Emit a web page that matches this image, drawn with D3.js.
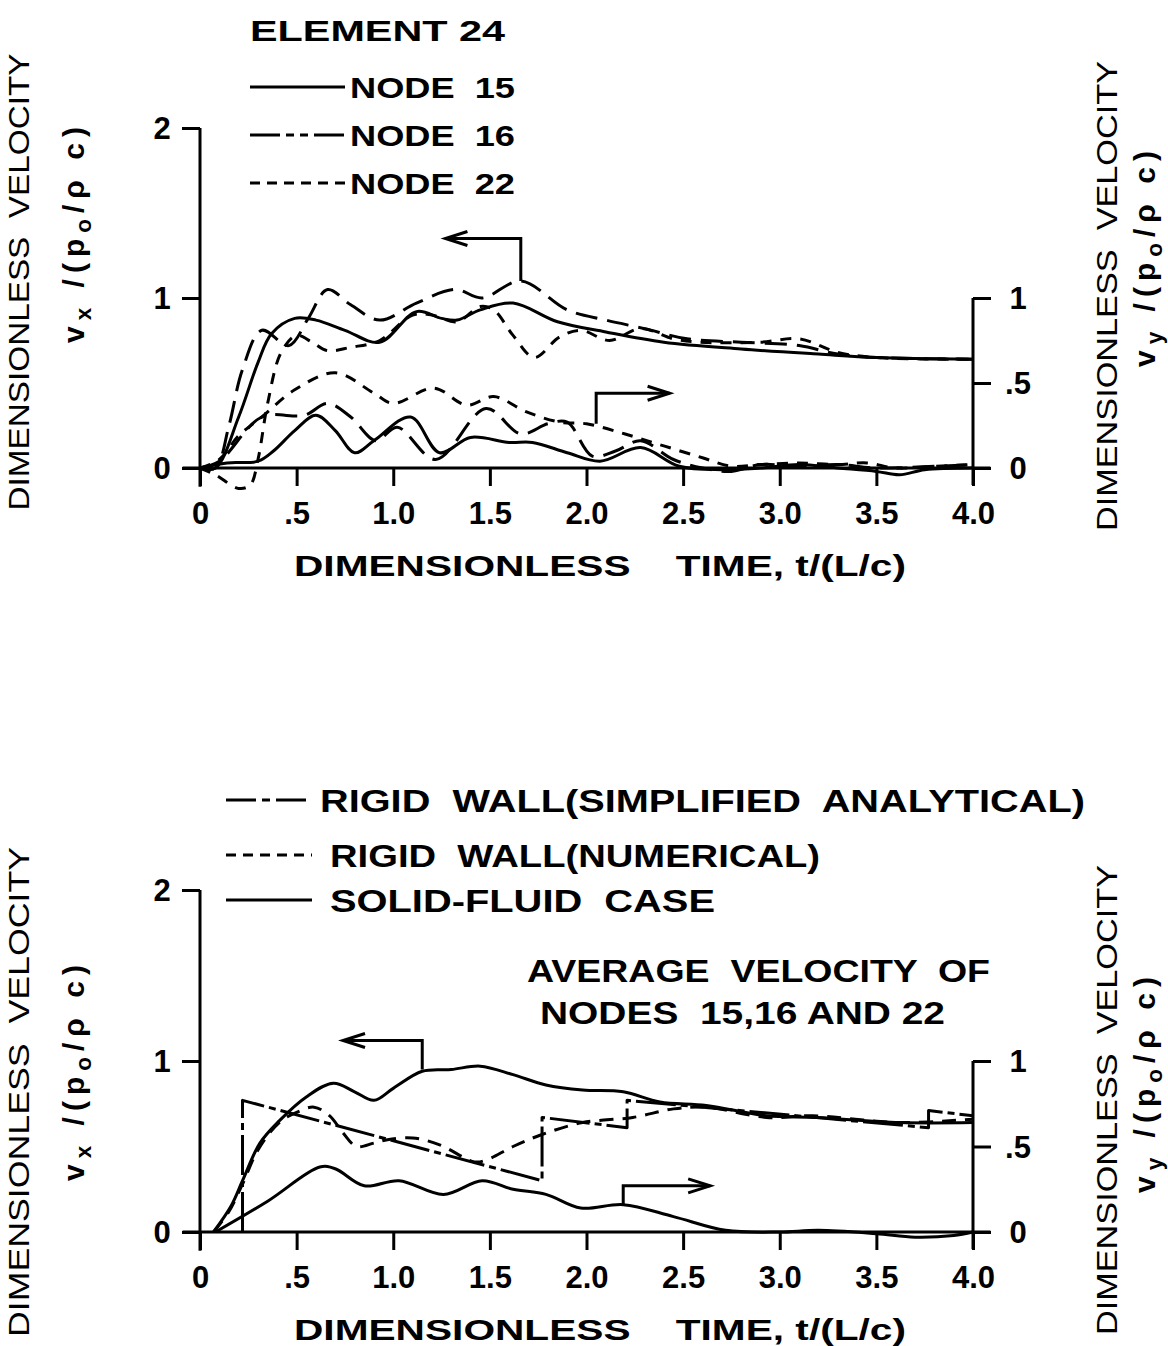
<!DOCTYPE html>
<html>
<head>
<meta charset="utf-8">
<script src="https://d3js.org/d3.v7.min.js"></script>
<style>
  body { margin: 0; background: #fff; }
  svg { display: block; background: #fff; }
  text { font-family: "Liberation Sans", Arial, sans-serif; fill: #000; white-space: pre; }
  .bold { font-weight: bold; }
  .curve { fill: none; stroke: #000; stroke-width: 3; stroke-linejoin: round; stroke-linecap: butt; }
  .ax { stroke: #000; stroke-width: 3; fill: none; }
</style>
</head>
<body>
<svg width="1168" height="1346"></svg>
<script>
// ---- tick values / labels ----
var timeTicks = [0, 0.5, 1, 1.5, 2, 2.5, 3, 3.5, 4];
var timeTickLabels = ["0", ".5", "1.0", "1.5", "2.0", "2.5", "3.0", "3.5", "4.0"];
var vxTicks = [0, 1, 2];
var vxTickLabels = ["0", "1", "2"];
var vyTicks = [0, 0.5, 1];
var vyTickLabels = ["0", ".5", "1"];

// ---- top panel: element 24, [t, v] ----
var node15Vx = [[0,0],[0.08,0],[0.2,0.3],[0.3,0.62],[0.37,0.79],[0.49,0.88],[0.6,0.87],[0.75,0.81],[0.93,0.74],[1.12,0.92],[1.25,0.88],[1.33,0.87],[1.45,0.93],[1.62,0.97],[1.85,0.86],[2.1,0.8],[2.4,0.74],[2.8,0.7],[3.2,0.67],[3.5,0.65],[4.0,0.64]];
var node16Vx = [[0,0],[0.08,0],[0.15,0.25],[0.22,0.58],[0.32,0.81],[0.46,0.72],[0.56,0.88],[0.66,1.05],[0.78,0.96],[0.93,0.87],[1.12,0.97],[1.32,1.05],[1.46,1.0],[1.66,1.1],[1.9,0.93],[2.1,0.87],[2.3,0.82],[2.52,0.76],[2.8,0.74],[3.1,0.72],[3.3,0.67],[3.5,0.65],[4.0,0.64]];
var node22Vx = [[0,0],[0.08,-0.04],[0.2,-0.12],[0.26,-0.1],[0.3,0.05],[0.35,0.38],[0.42,0.68],[0.5,0.78],[0.58,0.74],[0.66,0.69],[0.78,0.71],[0.93,0.75],[1.1,0.9],[1.2,0.9],[1.33,0.86],[1.45,0.95],[1.52,0.93],[1.62,0.78],[1.73,0.65],[1.86,0.77],[1.97,0.81],[2.12,0.75],[2.28,0.82],[2.45,0.76],[2.59,0.74],[2.9,0.74],[3.1,0.76],[3.3,0.68],[3.5,0.65],[4.0,0.64]];

var node15Vy = [[0,0],[0.14,0.03],[0.3,0.04],[0.38,0.1],[0.49,0.22],[0.6,0.31],[0.7,0.22],[0.8,0.09],[0.9,0.16],[1.09,0.3],[1.24,0.09],[1.4,0.18],[1.6,0.15],[1.72,0.15],[1.9,0.09],[2.07,0.04],[2.28,0.12],[2.48,0.01],[2.7,-0.01],[2.9,0.0],[3.1,0.02],[3.3,0.0],[3.5,-0.02],[3.62,-0.04],[3.75,-0.01],[4.0,0.0]];
var node16Vy = [[0,0],[0.1,0.04],[0.32,0.3],[0.54,0.31],[0.66,0.38],[0.78,0.3],[0.91,0.16],[1.02,0.24],[1.22,0.05],[1.48,0.35],[1.66,0.2],[1.8,0.26],[1.9,0.27],[2.03,0.07],[2.15,0.1],[2.28,0.16],[2.45,0.05],[2.6,0.0],[2.75,-0.02],[2.9,0.02],[3.1,0.01],[3.3,0.02],[3.5,0.0],[3.8,0.01],[4.0,0.02]];
var node22Vy = [[0,0],[0.1,0.05],[0.2,0.19],[0.32,0.3],[0.49,0.46],[0.7,0.56],[0.9,0.44],[1.0,0.38],[1.21,0.47],[1.38,0.37],[1.52,0.42],[1.69,0.33],[1.86,0.27],[2.0,0.26],[2.2,0.2],[2.4,0.13],[2.6,0.06],[2.75,0.01],[2.9,0.02],[3.1,0.03],[3.3,0.02],[3.45,0.03],[3.6,0.0],[3.8,0.01],[4.0,0.02]];

// ---- bottom panel: average of nodes 15,16,22 ----
var analyticalVx = [[0.22,0],[0.22,0.77],[1.77,0.3],[1.77,0.67],[2.21,0.61],[2.21,0.77],[3.77,0.61],[3.77,0.71],[4.0,0.68]];
var numericalVx = [[0.07,0],[0.15,0.12],[0.22,0.28],[0.3,0.48],[0.41,0.64],[0.5,0.7],[0.59,0.73],[0.67,0.68],[0.74,0.58],[0.81,0.5],[0.9,0.52],[0.97,0.54],[1.1,0.55],[1.24,0.51],[1.42,0.41],[1.48,0.42],[1.62,0.5],[1.77,0.57],[1.98,0.64],[2.24,0.67],[2.45,0.72],[2.62,0.73],[2.93,0.67],[3.17,0.68],[3.62,0.64],[4.0,0.66]];
var solidFluidVx = [[0.07,0],[0.16,0.15],[0.22,0.3],[0.31,0.52],[0.41,0.65],[0.55,0.79],[0.69,0.87],[0.8,0.82],[0.9,0.77],[1.0,0.84],[1.15,0.94],[1.3,0.95],[1.45,0.97],[1.62,0.92],[1.79,0.86],[1.98,0.83],[2.19,0.82],[2.38,0.76],[2.62,0.74],[2.93,0.68],[3.19,0.67],[3.62,0.64],[4.0,0.64]];
var solidFluidVy = [[0.08,0],[0.35,0.18],[0.62,0.38],[0.7,0.37],[0.85,0.27],[1.03,0.3],[1.26,0.22],[1.46,0.3],[1.62,0.25],[1.79,0.22],[1.97,0.14],[2.19,0.16],[2.45,0.09],[2.72,0.01],[3.0,0.0],[3.2,0.01],[3.5,-0.01],[3.7,-0.03],[3.9,-0.02],[4.0,0.0]];

var svg = d3.select("svg");
var x = d3.scaleLinear().domain([0, 4]).range([200, 973]);

function arrow(g, pts, y) {
    // pts: [t, v] corners, last one is the head
    var p = pts.map(function(d){ return [x(d[0]), y(d[1])]; });
    g.append("path").attr("class", "ax").attr("d", d3.line()(p));
    var a = p[p.length - 1], b = p[p.length - 2];
    var dir = a[0] > b[0] ? -1 : 1;
    g.append("path").attr("class", "ax")
     .attr("d", "M" + (a[0] + dir * 22) + "," + (a[1] - 7) + "L" + a[0] + "," + a[1] + "L" + (a[0] + dir * 22) + "," + (a[1] + 7));
}

function drawPanel(base, unit, series, arrows) {
    var y = d3.scaleLinear().domain([0, 2]).range([base, base - 2 * unit]);
    var g = svg.append("g");

    // left axis
    g.append("line").attr("class", "ax").attr("x1", x(0)).attr("x2", x(0)).attr("y1", y(2)).attr("y2", y(-0.11));
    g.append("g").attr("transform", "translate(" + x(0) + ",0)")
     .call(d3.axisLeft(y).tickValues(vxTicks).tickSize(18).tickFormat(""))
     .call(function(s){ s.select(".domain").remove(); s.selectAll("line").attr("stroke-width", 3); });
    g.selectAll(".vxl").data(vxTicks).enter().append("text")
     .attr("class", "bold").attr("x", 162).attr("y", function(d){ return y(d) + 11; })
     .attr("text-anchor", "middle").attr("font-size", 31)
     .text(function(d, i){ return vxTickLabels[i]; });

    // baseline and time axis
    g.append("line").attr("class", "ax").attr("x1", x(-0.09)).attr("x2", x(4.09)).attr("y1", y(0)).attr("y2", y(0));
    g.append("g").attr("transform", "translate(0," + y(0) + ")")
     .call(d3.axisBottom(x).tickValues(timeTicks).tickSize(18).tickPadding(16).tickFormat(function(d, i){ return timeTickLabels[i]; }))
     .call(function(s){
         s.select(".domain").remove();
         s.selectAll("line").attr("stroke-width", 3);
         s.selectAll("text").attr("font-size", 31).attr("font-weight", "bold").attr("fill", "#000")
          .attr("font-family", "Liberation Sans, Arial, sans-serif");
     });

    // right axis
    g.append("line").attr("class", "ax").attr("x1", x(4)).attr("x2", x(4)).attr("y1", y(1)).attr("y2", y(-0.1));
    g.append("g").attr("transform", "translate(" + x(4) + ",0)")
     .call(d3.axisRight(y).tickValues(vyTicks).tickSize(18).tickFormat(""))
     .call(function(s){ s.select(".domain").remove(); s.selectAll("line").attr("stroke-width", 3); });
    g.selectAll(".vyl").data(vyTicks).enter().append("text")
     .attr("class", "bold").attr("x", 1018).attr("y", function(d){ return y(d) + 11; })
     .attr("text-anchor", "middle").attr("font-size", 31)
     .text(function(d, i){ return vyTickLabels[i]; });

    // time title
    g.append("text").attr("class", "bold").attr("x", 600).attr("y", y(0) + 108)
     .attr("text-anchor", "middle").attr("font-size", 30).attr("textLength", 612).attr("lengthAdjust", "spacingAndGlyphs")
     .text("DIMENSIONLESS    TIME, t/(L/c)");

    // curves
    series.forEach(function(s) {
        var line = d3.line()
            .x(function(d){ return x(d[0]); })
            .y(function(d){ return y(d[1]); })
            .curve(s.linear ? d3.curveLinear : d3.curveCatmullRom.alpha(0.5));
        g.append("path").attr("class", "curve").attr("d", line(s.data))
         .attr("stroke-dasharray", s.dash || null);
    });

    arrows.forEach(function(a){ arrow(g, a, y); });
    return y;
}

// rotated "v_x /(p_o/ρc)" label, cx is the baseline position
function vLabel(cx, cy, sub, size) {
    var t = svg.append("text").attr("class", "bold").attr("text-anchor", "middle")
        .attr("font-size", size).attr("letter-spacing", 6)
        .attr("transform", "translate(" + cx + "," + cy + ") rotate(-90)");
    t.append("tspan").text("v");
    t.append("tspan").attr("font-size", size * 0.75).attr("dy", 7).text(sub);
    t.append("tspan").attr("dy", -7).text(" /(p");
    t.append("tspan").attr("font-size", size * 0.75).attr("dy", 7).text("o");
    t.append("tspan").attr("dy", -7).text("/\u03C1 c)");
}
function vTitle(cx, cy, len) {
    svg.append("text").attr("text-anchor", "middle").attr("font-size", 29)
       .attr("textLength", len).attr("lengthAdjust", "spacingAndGlyphs")
       .attr("transform", "translate(" + cx + "," + cy + ") rotate(-90)")
       .text("DIMENSIONLESS  VELOCITY");
}

var dash16 = "22,10", dash22 = "11,9";

// ---- top panel ----
drawPanel(468, 170, [
    { data: node15Vx }, { data: node16Vx, dash: dash16 }, { data: node22Vx, dash: dash22 },
    { data: node15Vy }, { data: node16Vy, dash: dash16 }, { data: node22Vy, dash: dash22 }
], [
    [[1.66, 1.1], [1.66, 1.35], [1.27, 1.35]],
    [[2.05, 0.26], [2.05, 0.44], [2.43, 0.44]]
]);

svg.append("text").attr("class", "bold").attr("x", 250).attr("y", 41).attr("font-size", 29)
   .attr("textLength", 255).attr("lengthAdjust", "spacingAndGlyphs").text("ELEMENT 24");
var topLegend = [
    { label: "NODE  15", y: 87, dash: null },
    { label: "NODE  16", y: 135, dash: "30,6,8,6,8,6" },
    { label: "NODE  22", y: 183, dash: "10,7" }
];
topLegend.forEach(function(d) {
    svg.append("line").attr("class", "ax").attr("x1", 250).attr("x2", 345).attr("y1", d.y).attr("y2", d.y)
       .attr("stroke-dasharray", d.dash);
    svg.append("text").attr("class", "bold").attr("x", 350).attr("y", d.y + 11).attr("font-size", 30)
       .attr("textLength", 165).attr("lengthAdjust", "spacingAndGlyphs").text(d.label);
});
vTitle(29, 282, 457);
vLabel(84, 232, "x", 30);
vTitle(1117, 296, 470);
vLabel(1155, 256, "y", 30);

// ---- bottom panel ----
drawPanel(1232, 171, [
    { data: analyticalVx, dash: "40,5,7,5", linear: true },
    { data: numericalVx, dash: "14,9" },
    { data: solidFluidVx },
    { data: solidFluidVy }
], [
    [[1.15, 0.95], [1.15, 1.12], [0.74, 1.12]],
    [[2.19, 0.16], [2.19, 0.27], [2.64, 0.27]]
]);

var botLegend = [
    { label: "RIGID  WALL(SIMPLIFIED  ANALYTICAL)", y: 800, dash: "30,6,8,6", x: 320, len: 765 },
    { label: "RIGID  WALL(NUMERICAL)", y: 855, dash: "10,7", x: 330, len: 490 },
    { label: "SOLID-FLUID  CASE", y: 900, dash: null, x: 330, len: 385 }
];
botLegend.forEach(function(d) {
    svg.append("line").attr("class", "ax").attr("x1", 226).attr("x2", 312).attr("y1", d.y).attr("y2", d.y)
       .attr("stroke-dasharray", d.dash);
    svg.append("text").attr("class", "bold").attr("x", d.x).attr("y", d.y + 12).attr("font-size", 31)
       .attr("textLength", d.len).attr("lengthAdjust", "spacingAndGlyphs").text(d.label);
});
svg.append("text").attr("class", "bold").attr("x", 527).attr("y", 982).attr("font-size", 31)
   .attr("textLength", 463).attr("lengthAdjust", "spacingAndGlyphs").text("AVERAGE  VELOCITY  OF");
svg.append("text").attr("class", "bold").attr("x", 540).attr("y", 1024).attr("font-size", 31)
   .attr("textLength", 405).attr("lengthAdjust", "spacingAndGlyphs").text("NODES  15,16 AND 22");
vTitle(29, 1092, 490);
vLabel(84, 1070, "x", 30);
vTitle(1117, 1100, 470);
vLabel(1155, 1082, "y", 30);
</script>
</body>
</html>
